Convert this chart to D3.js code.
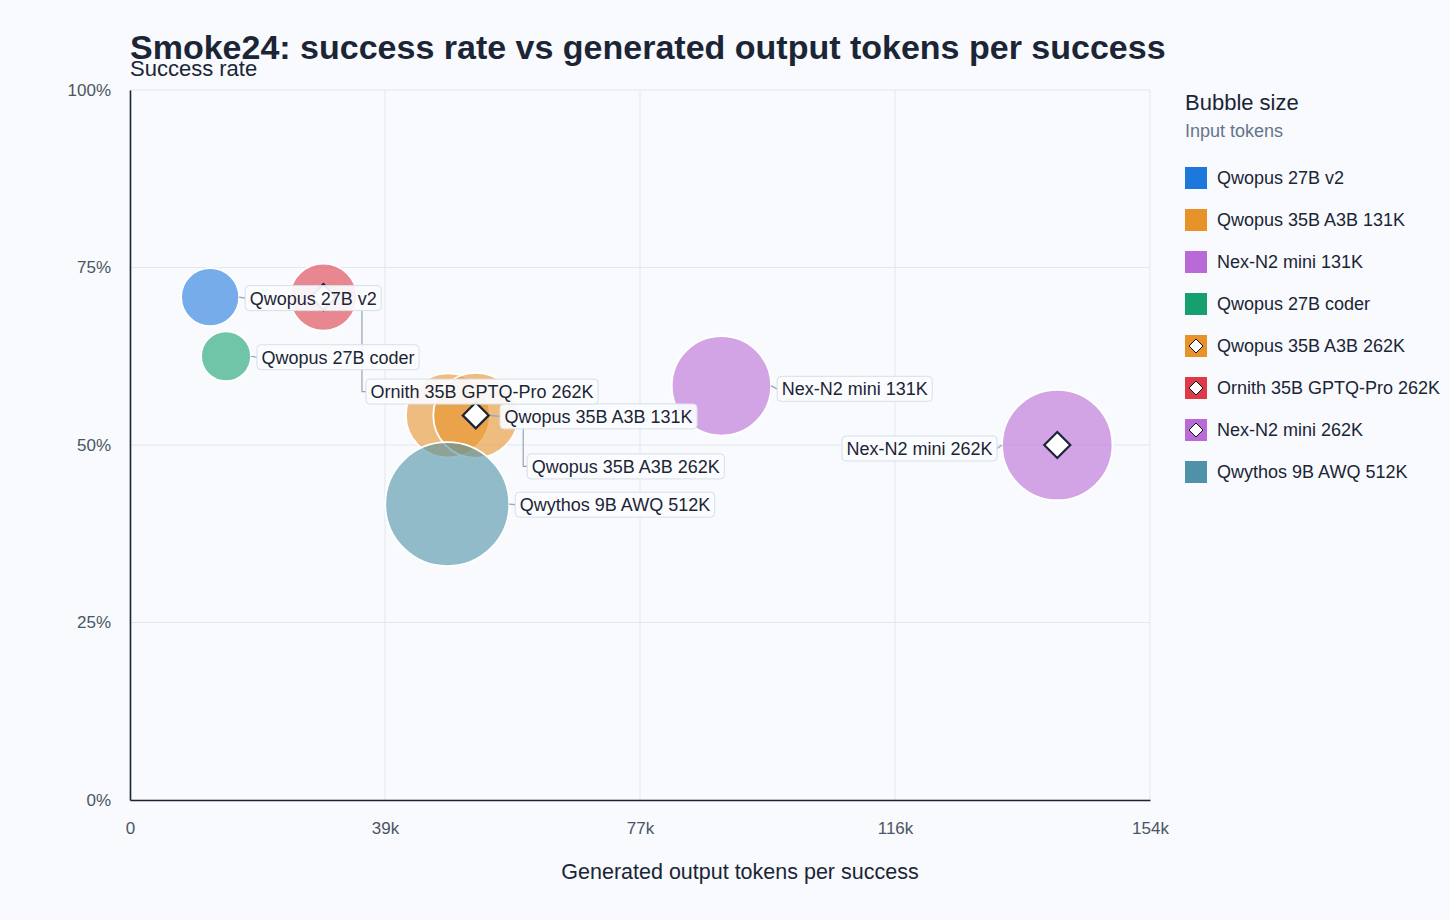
<!DOCTYPE html>
<html><head><meta charset="utf-8">
<script src="https://cdn.jsdelivr.net/npm/d3@7/dist/d3.min.js"></script>
<style>
html,body{margin:0;padding:0;background:#f8fafd;}
svg{display:block;font-family:"Liberation Sans",Arial,sans-serif;}
</style></head>
<body>
<svg id="chart" width="1450" height="920"></svg>
<script>
// ---- data ----
const models = ["Qwopus 27B v2","Qwopus 35B A3B 131K","Nex-N2 mini 131K","Qwopus 27B coder",
  "Qwopus 35B A3B 262K","Ornith 35B GPTQ-Pro 262K","Nex-N2 mini 262K","Qwythos 9B AWQ 512K"];
const outputTokensPerSuccess = [12100, 48000, 89300, 14500, 52200, 29200, 140000, 47900];
const successRate = [0.7083, 0.5417, 0.5833, 0.625, 0.5417, 0.7083, 0.50, 0.4167];
const inputTokens = [920000, 1930000, 2700000, 680000, 1970000, 1230000, 3330000, 4200000];
const hasDiamond = [false, false, false, false, true, true, true, false];
const colors = ["#1e78dc","#e8922a","#ba6ad6","#16a06e","#e8922a","#de3a48","#ba6ad6","#4e91a8"];
const xTicks = [0, 38500, 77000, 115500, 154000];
const yTicks = [0, 0.25, 0.5, 0.75, 1.0];

// label layout (side, vertical offset, elbow)
const labelLayout = [
  {side:"right", dy:1,    elbow:false},
  {side:"right", dy:1,    elbow:false, gap:10},
  {side:"right", dy:3,    elbow:false},
  {side:"right", dy:1,    elbow:false},
  {side:"right", dy:51,   elbow:true},
  {side:"right", dy:94.5, elbow:true},
  {side:"left",  dy:3.5,  elbow:false},
  {side:"right", dy:0.5,  elbow:false}
];

const svg = d3.select("#chart");
const m = {left:130, right:1150, top:90, bottom:800};
const x = d3.scaleLinear().domain([0,154000]).range([m.left, m.right]);
const y = d3.scaleLinear().domain([0,1]).range([m.bottom, m.top]);
const r = d3.scaleSqrt().domain([0, 4200000]).range([0, 62]);

const dark = "#1b2536", grid = "#e2e8f0", tickCol = "#4b5563";

// grid
const g = svg.append("g");
g.selectAll(".gx").data(xTicks).join("line")
  .attr("x1", d=>x(d)).attr("x2", d=>x(d)).attr("y1", m.top).attr("y2", m.bottom)
  .attr("stroke", grid).attr("stroke-width",1);
g.selectAll(".gy").data(yTicks).join("line")
  .attr("x1", m.left).attr("x2", m.right).attr("y1", d=>y(d)).attr("y2", d=>y(d))
  .attr("stroke", grid).attr("stroke-width",1);

// axes
const xAxis = d3.axisBottom(x).tickValues(xTicks).tickSize(0).tickPadding(22)
  .tickFormat(d => d === 0 ? "0" : Math.round(d/1000) + "k");
const xa = svg.append("g").attr("transform", `translate(0,${m.bottom})`).call(xAxis);
xa.select(".domain").attr("stroke", dark).attr("stroke-width", 1.6);
xa.selectAll("text").attr("fill", tickCol).attr("font-size", 17).attr("font-family","Liberation Sans, Arial, sans-serif");

const yAxis = d3.axisLeft(y).tickValues(yTicks).tickSize(0).tickPadding(19)
  .tickFormat(d => Math.round(d*100) + "%");
const ya = svg.append("g").attr("transform", `translate(${m.left},0)`).call(yAxis);
ya.select(".domain").attr("stroke", dark).attr("stroke-width", 1.6);
ya.selectAll("text").attr("fill", tickCol).attr("font-size", 17).attr("font-family","Liberation Sans, Arial, sans-serif");

// titles
svg.append("text").attr("x", 130).attr("y", 59).attr("font-size", 34).attr("font-weight", "bold")
  .attr("fill", dark).text("Smoke24: success rate vs generated output tokens per success");
svg.append("text").attr("x", 130).attr("y", 76).attr("font-size", 22).attr("fill", dark).text("Success rate");
svg.append("text").attr("x", 740).attr("y", 879).attr("text-anchor","middle").attr("font-size", 21.5)
  .attr("fill", dark).text("Generated output tokens per success");

// data rows
const rows = models.map((name,i)=>({name, xv:outputTokensPerSuccess[i], yv:successRate[i],
  iv:inputTokens[i], dia:hasDiamond[i], color:colors[i], lay:labelLayout[i]}));

// bubbles
svg.append("g").selectAll("circle").data(rows).join("circle")
  .attr("cx", d=>x(d.xv)).attr("cy", d=>y(d.yv)).attr("r", d=>r(d.iv))
  .attr("fill", d=>d.color).attr("fill-opacity", 0.6)
  .attr("stroke", "#ffffff").attr("stroke-width", 1.8);

// diamonds
const dh = 13;
svg.append("g").selectAll("path").data(rows.filter(d=>d.dia)).join("path")
  .attr("transform", d=>`translate(${x(d.xv)},${y(d.yv)})`)
  .attr("d", `M0,${-dh}L${dh},0L0,${dh}L${-dh},0Z`)
  .attr("fill", "#ffffff").attr("stroke", dark).attr("stroke-width", 2.2);

// labels
const lg = svg.append("g");
const leaderCol = "#94a3b8";
rows.forEach(d=>{
  const cx = x(d.xv), cy = y(d.yv), rr = r(d.iv);
  const t = lg.append("text").attr("font-size", 18).attr("fill", dark).text(d.name);
  const w = t.node().getComputedTextLength();
  const bw = w + 9, bh = 25;
  let bx, by = cy + d.lay.dy - bh/2;
  const lc = cy + d.lay.dy;
  let pts;
  if (d.lay.side === "left") {
    bx = cx - rr - 5 - bw;
    pts = [[cx-rr, cy],[bx+bw, lc]];
  } else if (d.lay.elbow) {
    const ex = cx + rr + 5;
    bx = ex + 4;
    pts = [[cx+rr, cy],[ex, cy],[ex, lc],[bx, lc]];
  } else {
    const gap = d.lay.gap || 6;
    bx = cx + rr + gap;
    pts = [[cx+rr, cy],[bx, lc]];
  }
  lg.insert("path", "text").attr("d", d3.line()(pts)).attr("fill","none")
    .attr("stroke", leaderCol).attr("stroke-width", 1.2);
  d.box = {bx, by, bw, bh, w};
});
// boxes and texts on top (in order)
lg.selectAll("text").remove();
rows.forEach(d=>{
  const b = d.box;
  lg.append("rect").attr("x", b.bx).attr("y", b.by).attr("width", b.bw).attr("height", b.bh)
    .attr("rx", 4).attr("fill", "#fbfcfe").attr("fill-opacity", 0.92)
    .attr("stroke", "#d6dfea").attr("stroke-width", 1);
  lg.append("text").attr("x", b.bx + 4.5).attr("y", b.by + b.bh/2 + 6.5)
    .attr("font-size", 18).attr("fill", dark).text(d.name);
});

// legend
const leg = svg.append("g").attr("transform", "translate(1185,0)");
leg.append("text").attr("x", 0).attr("y", 110).attr("font-size", 22).attr("fill", dark).text("Bubble size");
leg.append("text").attr("x", 0).attr("y", 137).attr("font-size", 18).attr("fill", "#64748b").text("Input tokens");
const items = leg.selectAll(".item").data(rows).join("g")
  .attr("transform", (d,i)=>`translate(0,${167 + i*42})`);
items.append("rect").attr("width", 22).attr("height", 22).attr("fill", d=>d.color);
const sd = 7;
items.filter(d=>d.dia).append("path")
  .attr("d", `M11,${11-sd}L${11+sd},11L11,${11+sd}L${11-sd},11Z`)
  .attr("fill", "#fff").attr("stroke", "#111").attr("stroke-width", 1);
items.append("text").attr("x", 32).attr("y", 17).attr("font-size", 18).attr("fill", dark).text(d=>d.name);
</script>
</body></html>
